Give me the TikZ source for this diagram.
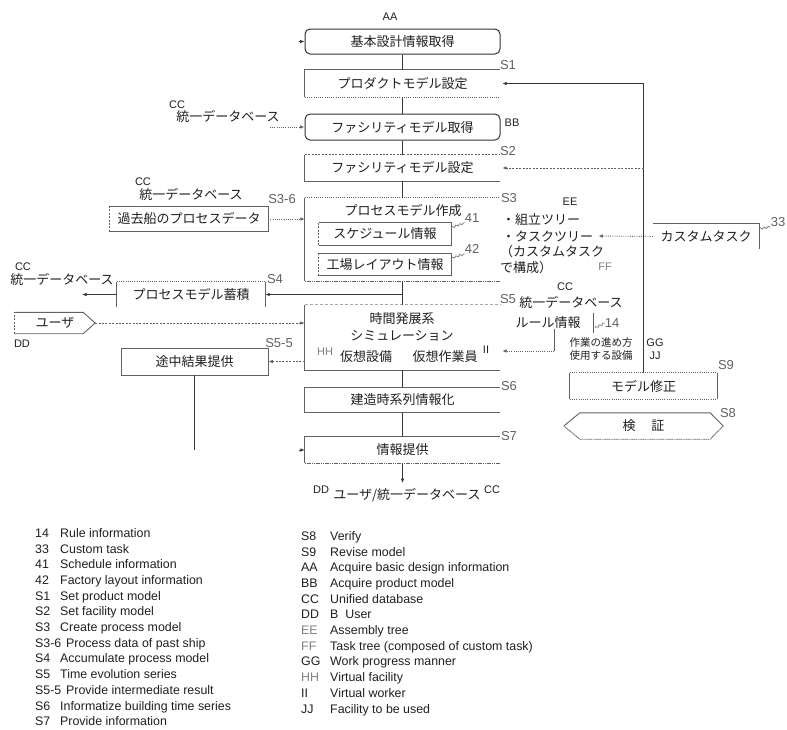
\documentclass[tikz,border=0pt]{standalone}
\usepackage{fontspec}
\setmainfont{Liberation Sans}
\newfontfamily\jp{Noto Sans CJK JP}
\usetikzlibrary{arrows.meta,calc,decorations.pathmorphing}

\definecolor{edge}{gray}{0.38}
\definecolor{ink}{gray}{0.12}

\begin{document}
\begin{tikzpicture}[x=1pt,y=-1pt,
  jptext/.style={font=\jp\fontsize{13}{15}\selectfont, text=ink, inner sep=0pt},
  smalljp/.style={font=\jp\fontsize{10.5}{12}\selectfont, text=ink, inner sep=0pt},
  slabel/.style={font=\fontsize{13}{15}\selectfont, text=black!62, inner sep=0pt},
  tag/.style={font=\fontsize{11}{13}\selectfont, text=ink, inner sep=0pt},
  graytag/.style={tag, text=black!50},
  frame/.style={inner sep=0pt, font=\jp\fontsize{13}{15}\selectfont, text=ink},
  ln/.style={draw=edge, line width=0.9pt},
  dotln/.style={draw=edge, line width=0.9pt, dash pattern=on 0.9pt off 1.3pt},
  densedot/.style={draw=edge, line width=0.9pt, dash pattern=on 1.2pt off 0.6pt},
  dashln/.style={draw=edge, line width=0.9pt, dash pattern=on 2pt off 1.4pt},
  flow/.style={draw=black!78, line width=0.9pt},
  tip/.style={-{Latex[length=4.5pt,width=3.6pt]}},
  wave/.style={draw=edge, line width=0.6pt, decorate,
    decoration={snake, segment length=4pt, amplitude=0.9pt}},
  leg/.style={font=\fontsize{12.4}{14}\selectfont, text=ink, anchor=base west, inner sep=0pt},
]
\useasboundingbox (0,0) rectangle (787,729);

% ---------- main column ----------
\node[frame, draw=black!80, line width=1pt, rounded corners=5pt,
      minimum width=195pt, minimum height=25pt] (aa) at (402.5,41.5) {基本設計情報取得};
\node[tag] (aatag) at (390,17) {AA};
\coordinate (aain) at ([xshift=-6pt]aa.west);
\draw[flow,tip] (aain) -- (aa.west);

\node[frame, minimum width=195pt, minimum height=27pt] (s1) at (402.5,83.5) {プロダクトモデル設定};
\draw[ln] (s1.south west) -- (s1.north west) -- (s1.north east);
\draw[dotln] (s1.south west) -- (s1.south east);
\node[slabel] (s1l) at (508,65) {S1};

\node[frame, draw=black!80, line width=1pt, rounded corners=5pt,
      minimum width=195pt, minimum height=26pt] (bb) at (402.5,127) {ファシリティモデル取得};
\node[tag] (bbtag) at (512,123) {BB};
\node[tag] (cc1) at (177,105) {CC};
\node[jptext] (db1) at (228,117) {統一データベース};
\coordinate (db1out) at (270,127);
\draw[dotln,tip] (db1out) -- (bb.west);

\node[frame, minimum width=195pt, minimum height=26pt] (s2) at (402.5,168) {ファシリティモデル設定};
\draw[dashln] (s2.north west) -- (s2.north east);
\draw[ln] (s2.north west) -- (s2.south west) -- (s2.south east);
\node[slabel] (s2l) at (508,151) {S2};

% process model creation
\node[frame, minimum width=195pt, minimum height=83pt] (s3) at (402.5,239.5) {};
\draw[dotln] (s3.north west) -- (s3.north east);
\draw[ln] (s3.north west) -- (s3.south west);
\draw[densedot] (s3.south west) -- (s3.south east);
\node[jptext] (s3t) at (403,211) {プロセスモデル作成};
\node[slabel] (s3l) at (509,198) {S3};

\node[frame, minimum width=132pt, minimum height=22pt] (sch) at (385,234) {スケジュール情報};
\draw[dashln] (sch.south west) -- (sch.north west);
\draw[ln] (sch.north west) -- (sch.north east) -- (sch.south east) -- (sch.south west);
\node[frame, minimum width=132pt, minimum height=22pt] (lay) at (385,264.5) {工場レイアウト情報};
\draw[dashln] (lay.south west) -- (lay.north west);
\draw[ln] (lay.north west) -- (lay.north east) -- (lay.south east) -- (lay.south west);
\node[slabel] (n41) at (472,218) {41};
\node[slabel] (n42) at (472,249) {42};
\draw[wave] ([yshift=-5pt]sch.north east) -- (n41.south west);
\draw[wave] ([yshift=-5pt]lay.north east) -- (n42.south west);

% past ship data
\node[frame, minimum width=158pt, minimum height=25pt] (past) at (189,219) {過去船のプロセスデータ};
\draw[dashln] (past.south west) -- (past.north west);
\draw[ln] (past.north west) -- (past.north east) -- (past.south east) -- (past.south west);
\node[tag] (cc2) at (143,182) {CC};
\node[jptext] (db2) at (191,195) {統一データベース};
\node[slabel] (s36l) at (282,199) {S3-6};
\draw[dotln,tip] (past.east) -- (s3.west |- past.east);

% accumulate process model
\node[frame, minimum width=148pt, minimum height=25pt] (s4) at (191,294.5) {プロセスモデル蓄積};
\draw[dotln] (s4.north west) -- (s4.north east);
\draw[ln] (s4.north west) -- (s4.south west);
\draw[ln] (s4.north east) -- (s4.south east);
\node[slabel] (s4l) at (275,279) {S4};
\node[tag] (cc3) at (23,267) {CC};
\node[jptext] (db3) at (62,280) {統一データベース};
\coordinate (s4junc) at (402.5,294.5);
\coordinate (db3in) at (82,294.5);
\draw[flow,tip] (s4junc) -- (s4.east);
\draw[flow,tip] (s4.west) -- (db3in);

% simulation
\node[frame, minimum width=195pt, minimum height=65pt] (s5) at (402.5,337.5) {};
\draw[ln, draw=black!35, dash pattern=on 3pt off 2pt] (s5.north west) -- (s5.north east);
\draw[ln] (s5.north west) -- (s5.south west) -- (s5.south east);
\node[jptext] (s5a) at (402,319) {時間発展系};
\node[jptext] (s5b) at (402,336) {シミュレーション};
\node[jptext] (vf) at (366,357) {仮想設備};
\node[jptext] (vw) at (445,357) {仮想作業員};
\node[graytag] (hh) at (325,352) {HH};
\node[tag] (ii) at (486,350) {II};
\node[slabel] (s5l) at (508,299) {S5};

% user
\node[frame, minimum width=80pt, minimum height=21pt] (user) at (55,323) {ユーザ};
\draw[dashln] (user.south west) -- (user.north west);
\draw[ln] (user.north west) -- ([xshift=-12pt]user.north east) -- (user.east)
          -- ([xshift=-12pt]user.south east) -- (user.south west);
\node[tag] (dd1) at (22,344) {DD};
\draw[dashln,tip] (user.east) -- (s5.west |- user.east);

% intermediate result
\node[frame, draw=edge, line width=0.9pt, minimum width=147pt, minimum height=27pt] (mid) at (194.5,361.5) {途中結果提供};
\node[slabel] (s55l) at (279,343) {S5-5};
\draw[dashln,tip] (s5.west |- mid.east) -- (mid.east);
\coordinate (midend) at (194.5,450);
\draw[flow] (mid.south) -- (midend);

% rule information
\node[tag] (cc4) at (565,287) {CC};
\node[jptext] (db4) at (571,303) {統一データベース};
\node[jptext] (rule) at (548,323) {ルール情報};
\coordinate (rulebend) at (554,351);
\draw[ln] (rule.south -| rulebend) -- (rulebend);
\draw[dotln,tip] (rulebend) -- ([xshift=2pt]s5.east |- rulebend);
\coordinate (stemtop) at (593,313);
\coordinate (stembot) at (593,333);
\draw[ln, line width=0.7pt] (stemtop) -- (stembot);
\node[slabel] (n14) at (612,323) {14};
\draw[wave] (595,328) -- (n14.west);
\node[smalljp] (gg1) at (601,343) {作業の進め方};
\node[smalljp] (jj1) at (601,356) {使用する設備};
\node[tag] (ggtag) at (655,343) {GG};
\node[tag] (jjtag) at (655,356) {JJ};

% trees and custom task
\node[tag] (ee) at (570,202) {EE};
\node[jptext, anchor=west] (ee1) at (502,220) {・組立ツリー};
\node[jptext, anchor=west] (ee2) at (502,236) {・タスクツリー};
\node[jptext, anchor=west] (ee3) at (500,252) {（カスタムタスク};
\node[jptext, anchor=west] (ee4) at (500,268) {で構成）};
\node[graytag] (ff) at (605,267) {FF};
\node[frame, minimum width=106pt, minimum height=25pt] (ct) at (706,236.5) {カスタムタスク};
\draw[ln] (ct.north west) -- (ct.north east) -- (ct.south east);
\draw[dotln,tip] (ct.west) -- ([xshift=5pt]ee2.east);
\node[slabel] (n33) at (778,222) {33};
\draw[wave] ([yshift=-5pt]ct.north east) -- (n33.south west);

% time series, information
\node[frame, minimum width=195pt, minimum height=25pt] (s6) at (402.5,400) {建造時系列情報化};
\draw[ln] (s6.south east) -- (s6.south west) -- (s6.north west) -- (s6.north east);
\node[slabel] (s6l) at (509,386) {S6};

\node[frame, minimum width=195pt, minimum height=26pt] (s7) at (402.5,450) {情報提供};
\draw[ln] (s7.south west) -- (s7.north west) -- (s7.north east);
\draw[densedot] (s7.south west) -- (s7.south east);
\node[slabel] (s7l) at (509,436) {S7};
\coordinate (s7in) at ([xshift=-6pt]s7.west);
\draw[flow,tip] (s7in) -- (s7.west);

\node[jptext] (out) at (407,495) {ユーザ/統一データベース};
\node[tag] (dd2) at (321,490) {DD};
\node[tag] (cc5) at (492,490) {CC};

% verification and revision
\node[frame, minimum width=147pt, minimum height=26pt] (s9) at (643.5,386) {モデル修正};
\draw[dotln] (s9.north west) -- (s9.north east);
\draw[dotln] (s9.south west) -- (s9.south east);
\draw[ln] (s9.north west) -- (s9.south west);
\draw[ln] (s9.north east) -- (s9.south east);
\node[slabel] (s9l) at (726,365) {S9};

\node[frame, minimum width=159pt, minimum height=26pt] (s8) at (643.5,426) {検\hspace{1.2em}証};
\draw[ln] (s8.west) -- ([xshift=16pt]s8.north west) -- ([xshift=-13pt]s8.north east) -- (s8.east);
\draw[densedot] (s8.east) -- ([xshift=-13pt]s8.south east) -- ([xshift=16pt]s8.south west) -- (s8.west);
\node[slabel] (s8l) at (728,413) {S8};

% flow through the main column
\draw[flow] (aa.south) -- (s1.north);
\draw[flow] (s1.south) -- (bb.north);
\draw[flow] (bb.south) -- (s2.north);
\draw[flow] (s2.south) -- (s3.north);
\draw[flow] (s3.south) -- (s5.north);
\draw[flow] (s5.south) -- (s6.north);
\draw[flow] (s6.south) -- (s7.north);
\draw[flow,tip,shorten >=5pt] (s7.south) -- (s7.south |- out.north);

% feedback from model revision
\draw[flow,tip] (s9.north) -- (s9.north |- s1.east) -- ([xshift=2pt]s1.east);
\draw[dashln,tip] (s9.north |- s2.east) -- ([xshift=2pt]s2.east);

% ---------- key ----------
\foreach \c/\t/\dx [count=\i from 0] in {
  14/{Rule information}/60,
  33/{Custom task}/60,
  41/{Schedule information}/60,
  42/{Factory layout information}/60,
  S1/{Set product model}/60,
  S2/{Set facility model}/60,
  S3/{Create process model}/60,
  S3-6/{Process data of past ship}/66,
  S4/{Accumulate process model}/60,
  S5/{Time evolution series}/60,
  S5-5/{Provide intermediate result}/66,
  S6/{Informatize building time series}/60,
  S7/{Provide information}/60}{
  \node[leg] (lc\i) at (35,537.3+15.7*\i) {\c};
  \node[leg] (lt\i) at (\dx,537.3+15.7*\i) {\t};
}
\foreach \c/\t/\g [count=\i from 0] in {
  S8/{Verify}/ink,
  S9/{Revise model}/ink,
  AA/{Acquire basic design information}/ink,
  BB/{Acquire product model}/ink,
  CC/{Unified database}/ink,
  DD/{B\ \ User}/ink,
  EE/{Assembly tree}/black!50,
  FF/{Task tree (composed of custom task)}/black!50,
  GG/{Work progress manner}/ink,
  HH/{Virtual facility}/black!50,
  II/{Virtual worker}/ink,
  JJ/{Facility to be used}/ink}{
  \node[leg, text=\g] (rc\i) at (301,540.3+15.7*\i) {\c};
  \node[leg] (rt\i) at (330,540.3+15.7*\i) {\t};
}
\end{tikzpicture}
\end{document}
